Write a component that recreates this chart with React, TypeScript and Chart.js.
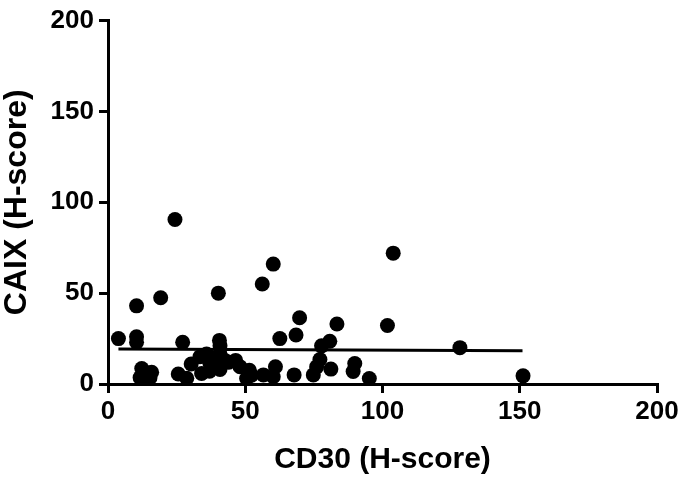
import React, { useEffect, useRef } from "react";
import { Chart, registerables } from "chart.js";

Chart.register(...registerables);

// CD30 (H-score) values
const cd30: number[] = [
  3.8, 10.4, 10.4, 10.4, 19.2, 24.4, 27.2, 40.2, 40.6, 40.8,
  56.2, 60.2, 62.6, 68.5, 69.8, 83.4, 101.8, 103.9, 128.2, 151.2,
  12.3, 11.7, 15.9, 15.3, 25.6, 28.7, 30.3, 33.5, 35.9, 37.1,
  34.1, 37.0, 40.8, 40.8, 42.6, 46.5, 48.1, 51.5, 50.5, 52.3,
  56.6, 60.2, 61.0, 67.8, 74.8, 76.0, 77.2, 77.8, 80.8, 81.2,
  89.9, 89.3, 95.2, 38.5, 44.0,
];
// CAIX (H-score) values
const caix: number[] = [
  25, 26, 23, 43, 47.5, 90.5, 23, 50, 24, 21,
  55, 66, 25, 27, 36.5, 33, 32.2, 72, 20, 4.5,
  8.5, 3.5, 6.5, 3.5, 5.5, 3.2, 11, 15, 16.5, 11.5,
  5.8, 7, 16.5, 8, 13, 13, 9.5, 7.5, 3, 4.8,
  5, 4, 9.5, 5, 5, 9.4, 13.5, 21, 23.5, 8.2,
  11.3, 6.9, 3, 14, 12,
];
// Fitted regression line (endpoints)
const fitX: number[] = [3.8, 151];
const fitY: number[] = [19.3, 18.3];

const axisTicks: number[] = [0, 50, 100, 150, 200];
const xTitle = "CD30 (H-score)";
const yTitle = "CAIX (H-score)";

const FONT = "'Liberation Sans', Arial, Helvetica, sans-serif";

export default function App() {
  const ref = useRef<HTMLCanvasElement | null>(null);

  useEffect(() => {
    document.body.style.margin = "0";
    const canvas = ref.current;
    if (!canvas) return;
    const points = cd30.map((x, i) => ({ x, y: caix[i] }));
    const fit = fitX.map((x, i) => ({ x, y: fitY[i] }));
    const tickFont = { family: FONT, size: 26, weight: "bold" as const };
    const xTitleFont = { family: FONT, size: 30, weight: "bold" as const };
    const yTitleFont = { family: FONT, size: 32, weight: "bold" as const };

    const chart = new Chart(canvas, {
      type: "scatter",
      data: {
        datasets: [
          {
            type: "line",
            data: fit,
            borderColor: "#000",
            borderWidth: 3,
            pointRadius: 0,
            fill: false,
            clip: false as any,
          } as any,
          {
            data: points,
            backgroundColor: "#000",
            borderColor: "#000",
            pointRadius: 7.5,
            pointHoverRadius: 7.5,
            borderWidth: 0,
            clip: false as any,
          },
        ],
      },
      options: {
        responsive: false,
        animation: false,
        devicePixelRatio: 1,
        layout: { padding: { top: 16, right: 29, bottom: 3, left: 0 } },
        plugins: {
          legend: { display: false },
          tooltip: { enabled: false },
        },
        scales: {
          x: {
            type: "linear",
            min: 0,
            max: 200,
            afterBuildTicks: (s: any) => {
              s.ticks = axisTicks.map((v) => ({ value: v }));
            },
            afterFit: (s: any) => {
              s.height = 94;
            },
            grid: {
              display: true,
              drawOnChartArea: false,
              drawTicks: true,
              tickLength: 9,
              lineWidth: 3,
              color: "#000",
            },
            border: { display: true, width: 3, color: "#000" },
            ticks: {
              color: "#000",
              font: tickFont,
              padding: 3,
              maxRotation: 0,
            },
            title: {
              display: true,
              text: xTitle,
              color: "#000",
              font: xTitleFont,
              padding: { top: 0, bottom: 0 },
            },
          },
          y: {
            type: "linear",
            min: 0,
            max: 200,
            afterBuildTicks: (s: any) => {
              s.ticks = axisTicks.map((v) => ({ value: v }));
            },
            afterFit: (s: any) => {
              s.width = 108;
            },
            grid: {
              display: true,
              drawOnChartArea: false,
              drawTicks: true,
              tickLength: 9,
              lineWidth: 3,
              color: "#000",
            },
            border: { display: true, width: 3, color: "#000" },
            ticks: {
              color: "#000",
              font: tickFont,
              padding: 5,
            },
            title: {
              display: true,
              text: yTitle,
              color: "#000",
              font: yTitleFont,
              padding: { top: -2, bottom: 0 },
            },
          },
        },
      },
    });
    return () => chart.destroy();
  }, []);

  return (
    <div style={{ position: "relative", width: 686, height: 481, background: "#fff" }}>
      <canvas ref={ref} width={686} height={481} />
    </div>
  );
}
